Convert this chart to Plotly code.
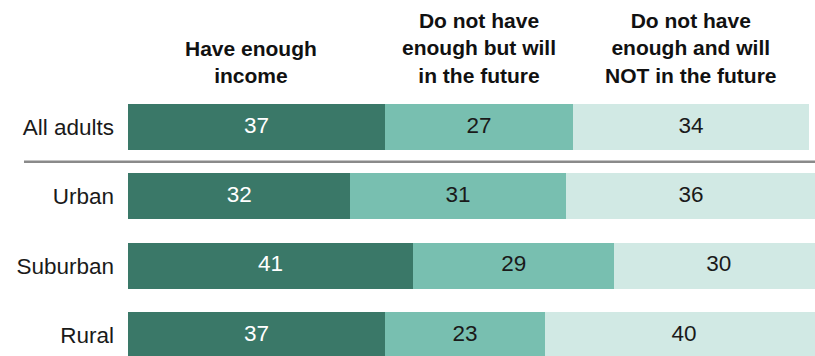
import plotly.graph_objects as go

categories = ["All adults", "Urban", "Suburban", "Rural"]
series_names = [
    "Have enough<br>income",
    "Do not have<br>enough but will<br>in the future",
    "Do not have<br>enough and will<br>NOT in the future",
]
have_enough = [37, 32, 41, 37]
will_future = [27, 31, 29, 23]
will_not = [34, 36, 30, 40]

series_values = [have_enough, will_future, will_not]
colors = ["#3a7868", "#78bfb0", "#d1e9e4"]
text_colors = ["#ffffff", "#1a1a1a", "#1a1a1a"]

FONT = "Liberation Sans, Arial, sans-serif"

fig = go.Figure()

for name, vals, col in zip(series_names, series_values, colors):
    fig.add_trace(go.Bar(
        y=categories, x=vals, orientation="h", name=name,
        marker=dict(color=col, line=dict(width=0)),
        hoverinfo="skip", showlegend=False,
    ))

# value labels at segment centers
base = [0] * len(categories)
for vals, tcol in zip(series_values, text_colors):
    centers = [b + v / 2 for b, v in zip(base, vals)]
    fig.add_trace(go.Scatter(
        y=categories, x=centers, mode="text",
        text=[str(v) for v in vals],
        textposition="middle center",
        textfont=dict(family=FONT, size=22.5, color=tcol),
        cliponaxis=False, hoverinfo="skip", showlegend=False,
    ))
    base = [b + v for b, v in zip(base, vals)]

# column headers above the first row's segments
base0 = 0
shifts = [-6, 0, 0]
for name, vals, sh in zip(series_names, series_values, shifts):
    c = base0 + vals[0] / 2
    fig.add_annotation(
        x=c, xref="x", y=1, yref="paper", yanchor="bottom", xanchor="center",
        text="<b>" + name + "</b>", showarrow=False, xshift=sh, yshift=1,
        font=dict(family=FONT, size=21, color="#111111"), align="center",
    )
    base0 += vals[0]

# separator between total and subgroups
fig.add_shape(type="line", xref="paper", yref="y",
              x0=-0.1514, x1=1.0, y0=0.5, y1=0.5,
              line=dict(color="#8a8a8a", width=2.5))

fig.update_layout(
    width=815, height=356,
    margin=dict(l=128, r=0, t=90, b=0),
    barmode="stack", bargap=0.337,
    plot_bgcolor="white", paper_bgcolor="white",
    font=dict(family=FONT, color="#1a1a1a"),
    xaxis=dict(range=[0, 98.85], visible=False, fixedrange=True),
    yaxis=dict(
        categoryorder="array", categoryarray=categories,
        range=[3.300, -0.533], showgrid=False, zeroline=False,
        showline=False, ticks="", ticklabelstandoff=13,
        tickfont=dict(family=FONT, size=22.5, color="#1a1a1a"),
        fixedrange=True, automargin=False,
    ),
)

fig.write_html(
    "out.html",
    config={"displayModeBar": False, "staticPlot": True},
    post_script="document.body.style.margin='0';document.body.style.overflow='hidden';",
)
